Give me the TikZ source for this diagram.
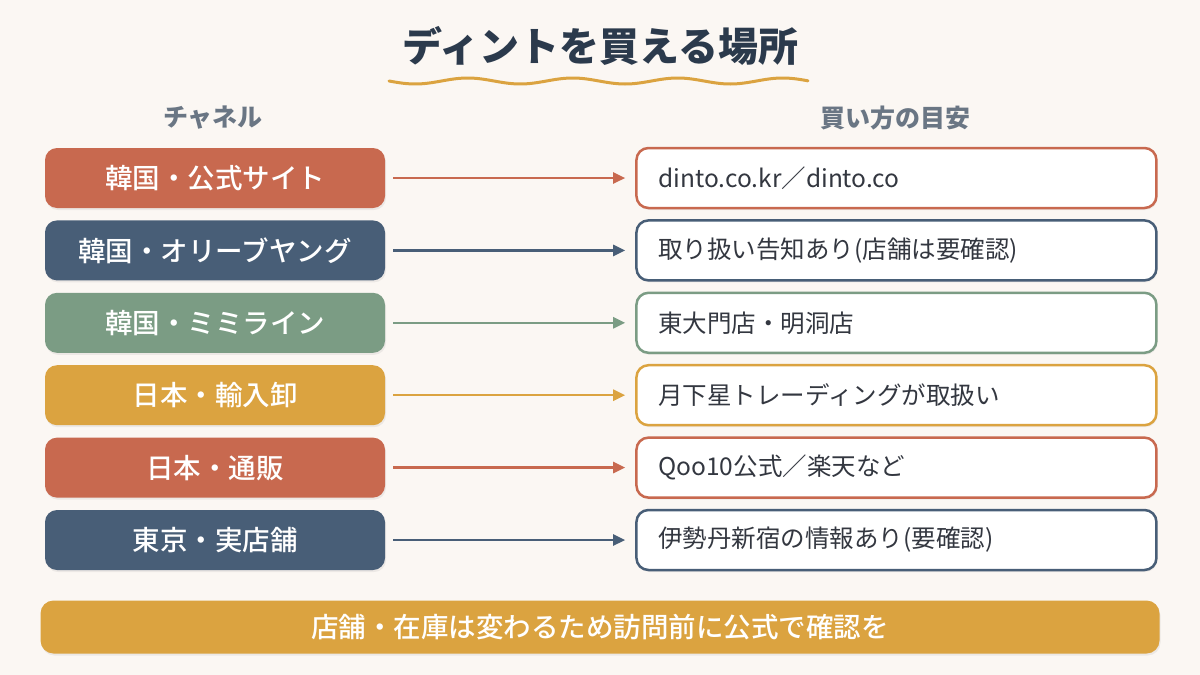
\documentclass[tikz,border=0pt]{standalone}
\usepackage{fontspec}
\setmainfont{Noto Sans CJK JP}
\newfontfamily\medfont{Noto Sans CJK JP Medium}
\usetikzlibrary{arrows.meta,positioning,shadows}
\definecolor{paper}{HTML}{FBF7F3}
\definecolor{ink}{HTML}{2B3A4C}
\definecolor{headgray}{HTML}{6A7684}
\definecolor{bodytxt}{HTML}{333740}
\definecolor{brick}{HTML}{C8694F}
\definecolor{slate}{HTML}{485E77}
\definecolor{sage}{HTML}{7B9C84}
\definecolor{mustard}{HTML}{DBA340}

\begin{document}
\begin{tikzpicture}[
  x=1pt, y=-1pt,
  node distance=12pt and 250pt,
  chan/.style={rectangle, rounded corners=12pt, draw=none,
               minimum width=340pt, minimum height=60pt,
               text=white, font=\fontsize{27.5}{30}\selectfont\medfont,
               drop shadow={opacity=0.12, shadow xshift=1pt, shadow yshift=-2pt}},
  buy/.style={rectangle, rounded corners=12pt, fill=white, line width=2.5pt,
              minimum height=60pt, text width=476pt, inner xsep=22pt,
              align=left, text=bodytxt, font=\fontsize{24.5}{28}\selectfont,
              drop shadow={opacity=0.10, shadow xshift=1pt, shadow yshift=-2pt}},
  colhead/.style={text=headgray, font=\fontsize{25}{28}\selectfont\bfseries},
  link/.style={-{Triangle[length=12pt, width=11pt]}, line width=2.5pt,
               shorten <=8pt, shorten >=10pt}
]
\fill[paper] (0,0) rectangle (1200,675);
\useasboundingbox (0,0) rectangle (1200,675);

% title with wavy underline
\node[text=ink, font=\fontsize{40}{46}\selectfont\bfseries] (title) at (600,46) {ディントを買える場所};
\draw[mustard, line width=3pt, line cap=round]
  plot[domain=389:808, samples=120] (\x, {81+3*sin((\x-389)/105*360)});

\node[colhead] (hchan) at (213,118) {チャネル};
\node[colhead] (hbuy)  at (895,118) {買い方の目安};

% channels
\node[chan, fill=brick]                   (chan1) at (215,178) {韓国・公式サイト};
\node[chan, fill=slate,   below=of chan1] (chan2) {韓国・オリーブヤング};
\node[chan, fill=sage,    below=of chan2] (chan3) {韓国・ミミライン};
\node[chan, fill=mustard, below=of chan3] (chan4) {日本・輸入卸};
\node[chan, fill=brick,   below=of chan4] (chan5) {日本・通販};
\node[chan, fill=slate,   below=of chan5] (chan6) {東京・実店舗};

% where to buy
\node[buy, draw=brick,   right=of chan1] (buy1) {dinto.co.kr／dinto.co};
\node[buy, draw=slate,   right=of chan2] (buy2) {取り扱い告知あり(店舗は要確認)};
\node[buy, draw=sage,    right=of chan3] (buy3) {東大門店・明洞店};
\node[buy, draw=mustard, right=of chan4] (buy4) {月下星トレーディングが取扱い};
\node[buy, draw=brick,   right=of chan5] (buy5) {Qoo10公式／楽天など};
\node[buy, draw=slate,   right=of chan6] (buy6) {伊勢丹新宿の情報あり(要確認)};

\draw[link, brick]   (chan1) -- (buy1);
\draw[link, slate]   (chan2) -- (buy2);
\draw[link, sage]    (chan3) -- (buy3);
\draw[link, mustard] (chan4) -- (buy4);
\draw[link, brick]   (chan5) -- (buy5);
\draw[link, slate]   (chan6) -- (buy6);

% note
\node[rectangle, rounded corners=13pt, fill=mustard, minimum width=1119pt,
      minimum height=53pt, text=white, font=\fontsize{27.5}{30}\selectfont\medfont,
      drop shadow={opacity=0.12, shadow xshift=1pt, shadow yshift=-2pt}]
  (note) at (600,627) {店舗・在庫は変わるため訪問前に公式で確認を};
\end{tikzpicture}
\end{document}
